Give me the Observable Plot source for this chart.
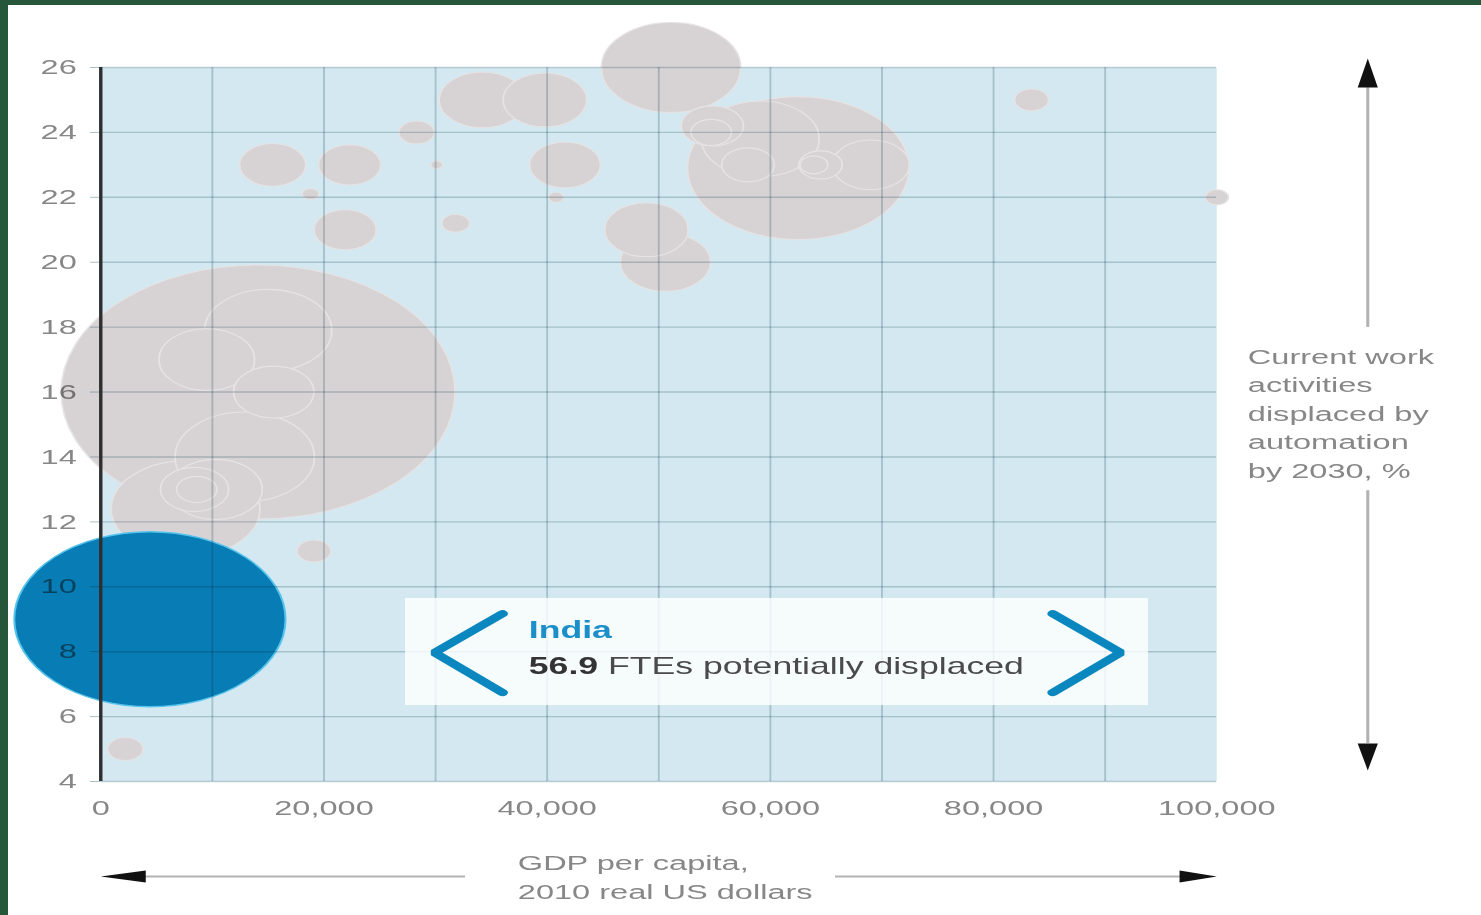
<!DOCTYPE html>
<html><head><meta charset="utf-8">
<script src="https://cdn.jsdelivr.net/npm/d3@7"></script>
<script src="https://cdn.jsdelivr.net/npm/@observablehq/plot@0.6"></script>
<style>
html,body{margin:0;padding:0;background:#27573a;width:1481px;height:915px;overflow:hidden}
#wrap{position:absolute;left:8px;top:5px;width:1473px;height:910px;background:#fff;overflow:hidden}
</style></head><body><div id="wrap"></div>
<script>
// ---- data: GDP per capita (2010 real US$), share displaced by 2030 (%), FTEs displaced (millions)
const gdp   = [14100, 7600, 15400, 22300, 18800, 21900, 28300, 30100, 31800, 34200, 39800, 41600, 40800, 48900, 50600, 51100, 62500, 54800, 54700, 59100, 58000, 64500, 63900, 69000, 83400, 100000, 19100, 2200, 9500, 15000, 15500, 12900, 10300, 8400, 8600];
const share = [16.0, 12.4, 23.0, 23.0, 22.1, 21.0, 24.0, 23.0, 21.2, 25.0, 25.0, 23.0, 22.0, 21.0, 20.0, 26.0, 22.9, 24.2, 24.0, 23.8, 23.0, 23.0, 23.0, 23.0, 25.0, 22.0, 11.1, 5.0, 17.0, 17.9, 16.0, 14.0, 13.0, 13.0, 13.0];
const fte   = [120, 17.1, 3.4, 3.0, 0.22, 3.0, 0.98, 0.12, 0.60, 5.8, 5.4, 3.9, 0.19, 5.4, 6.3, 15.0, 38.0, 3.0, 1.26, 10.7, 2.15, 1.46, 0.60, 4.6, 0.90, 0.42, 0.90, 0.98, 7.1, 12.5, 5.0, 15.0, 6.7, 3.6, 1.26];

const highlightName  = "India";
const highlightGdp   = 4400;
const highlightShare = 9.0;
const highlightFte   = 56.9;

// ticks / labels
const xTicks = [0, 20000, 40000, 60000, 80000, 100000];
const xGrid  = [10000, 20000, 30000, 40000, 50000, 60000, 70000, 80000, 90000];
const yTicks = [4, 6, 8, 10, 12, 14, 16, 18, 20, 22, 24, 26];
const xTitle = "GDP per capita,\n2010 real US dollars";
const yTitle = "Current work\nactivities\ndisplaced by\nautomation\nby 2030, %";
const fteText = " FTEs potentially displaced";

// ---- annotation geometry (data units)
const annot = {
  vx: 113530, vTop: 26.28, vLine1: [25.38, 17.99], vLine2: [12.96, 5.17], vBottom: 4.34,
  hy: 1.07, hLine1: [4030, 32710], hLine2: [65860, 97700],
  yTitleAt: [102780, 17.49], xTitleAt: [37370, 1.90],
  box: {x1: 27330, x2: 93910, y1: 9.64, y2: 6.34},
  chevL: [{x: 36000, y: 9.17}, {x: 29900, y: 7.97}, {x: 36000, y: 6.74}],
  chevR: [{x: 85300, y: 9.17}, {x: 91400, y: 7.97}, {x: 85300, y: 6.74}],
  name: [38350, 8.66], value: [38350, 7.55]
};

const table = gdp.map((g, i) => ({gdp: g, share: share[i], fte: fte[i]}));
const hl = [{gdp: highlightGdp, share: highlightShare, fte: highlightFte}];

function tri(pts) {
  return {draw(ctx) { ctx.moveTo(pts[0][0], pts[0][1]); for (let i = 1; i < pts.length; i++) ctx.lineTo(pts[i][0], pts[i][1]); ctx.closePath(); }};
}
const headUp = tri([[0,0],[6.5,29],[-6.5,29]]);
const headDown = tri([[0,0],[6.5,-27],[-6.5,-27]]);
const headLeft = tri([[0,0],[29,-6],[29,6]]);
const headRight = tri([[0,0],[-24,-6],[-24,6]]);

const S = 1.55, OUT_W = 1473, H = 910, W = OUT_W / S;
const GRAY_TXT = "#878787";

const chart = Plot.plot({
  width: W, height: H,
  marginLeft: 92 / S, marginRight: 265 / S, marginTop: 62, marginBottom: 134,
  x: {domain: [0, 100000], label: null},
  y: {domain: [4, 26], label: null},
  r: {domain: [0, highlightFte], range: [0, 87.5]},
  style: {fontFamily: "'Liberation Sans', Arial, sans-serif", fontSize: "21px", background: "transparent", overflow: "visible"},
  marks: [
    Plot.frame({fill: "#d3e8f0", stroke: "none"}),
    Plot.dot(table, {x: "gdp", y: "share", r: "fte", fill: "#d7d3d5", stroke: "#e5e3e4", strokeWidth: 1.1}),
    Plot.dot(hl, {x: "gdp", y: "share", r: "fte", fill: "#087db5", stroke: "#56c3ec", strokeWidth: 1.3}),
    Plot.gridX(xGrid, {stroke: "#c8d4d8", strokeOpacity: 1, strokeWidth: 1.2}),
    Plot.gridY(yTicks, {stroke: "#c8d4d8", strokeOpacity: 1, strokeWidth: 1.4}),
    Plot.axisY(yTicks, {tickSize: 6.5, tickPadding: 9, stroke: "#adc0c8", fill: GRAY_TXT, label: null}),
    Plot.ruleX([0], {y1: 4, y2: 26, stroke: "#2e2e2e", strokeWidth: 2.2}),
    Plot.axisX(xTicks, {tickSize: 0, tickPadding: 19, tickFormat: d3.format(","), fill: GRAY_TXT, label: null}),
    // annotation box
    Plot.rect([annot.box], {x1: "x1", x2: "x2", y1: "y1", y2: "y2", fill: "#ffffff", fillOpacity: 0.8}),
    Plot.line(annot.chevL, {x: "x", y: "y", stroke: "#0b87bf", strokeWidth: 7, strokeLinecap: "round", strokeLinejoin: "miter"}),
    Plot.line(annot.chevR, {x: "x", y: "y", stroke: "#0b87bf", strokeWidth: 7, strokeLinecap: "round", strokeLinejoin: "miter"}),
    Plot.text([highlightName], {x: annot.name[0], y: annot.name[1], text: d => d, textAnchor: "start", fill: "#1b8fca", fontWeight: "bold", fontSize: 23}),
    Plot.text([highlightFte + fteText], {x: annot.value[0], y: annot.value[1], text: d => d, textAnchor: "start", fill: "#4a4a4a", fontSize: 23}),
    // vertical (y) title with arrows
    Plot.ruleX([annot.vx], {y1: annot.vLine1[0], y2: annot.vLine1[1], stroke: "#b3b3b3", strokeWidth: 2}),
    Plot.ruleX([annot.vx], {y1: annot.vLine2[0], y2: annot.vLine2[1], stroke: "#b3b3b3", strokeWidth: 2}),
    Plot.dot([{x: annot.vx, y: annot.vTop}], {x: "x", y: "y", r: 10, symbol: headUp, fill: "#111", stroke: "none"}),
    Plot.dot([{x: annot.vx, y: annot.vBottom}], {x: "x", y: "y", r: 10, symbol: headDown, fill: "#111", stroke: "none"}),
    Plot.text([yTitle], {x: annot.yTitleAt[0], y: annot.yTitleAt[1], text: d => d, textAnchor: "start", lineAnchor: "top", lineHeight: 1.357, fill: GRAY_TXT, fontSize: 21}),
    // horizontal (x) title with arrows
    Plot.ruleY([annot.hy], {x1: annot.hLine1[0], x2: annot.hLine1[1], stroke: "#b3b3b3", strokeWidth: 2}),
    Plot.ruleY([annot.hy], {x1: annot.hLine2[0], x2: annot.hLine2[1], stroke: "#b3b3b3", strokeWidth: 2}),
    Plot.dot([{x: 0, y: annot.hy}], {x: "x", y: "y", r: 10, symbol: headLeft, fill: "#111", stroke: "none"}),
    Plot.dot([{x: 100000, y: annot.hy}], {x: "x", y: "y", r: 10, symbol: headRight, fill: "#111", stroke: "none"}),
    Plot.text([xTitle], {x: annot.xTitleAt[0], y: annot.xTitleAt[1], text: d => d, textAnchor: "start", lineAnchor: "top", lineHeight: 1.38, fill: GRAY_TXT, fontSize: 21})
  ]
});

// anamorphic stretch like the reference image
chart.setAttribute("width", OUT_W);
chart.setAttribute("height", H);
chart.setAttribute("preserveAspectRatio", "none");
chart.style.width = OUT_W + "px";
chart.style.height = H + "px";
chart.style.maxWidth = "none";

// multiply grid + y labels so they darken bubbles like the print
chart.querySelectorAll('[aria-label="x-grid"],[aria-label="y-grid"],[aria-label^="y-axis"]').forEach(g => g.style.mixBlendMode = "multiply");

// bold value in annotation
chart.querySelectorAll("text").forEach(t => {
  if (t.textContent === highlightFte + fteText) {
    t.innerHTML = `<tspan font-weight="bold" fill="#333">${highlightFte}</tspan>${fteText}`;
  }
});

document.getElementById("wrap").appendChild(chart);
</script>
</body></html>
